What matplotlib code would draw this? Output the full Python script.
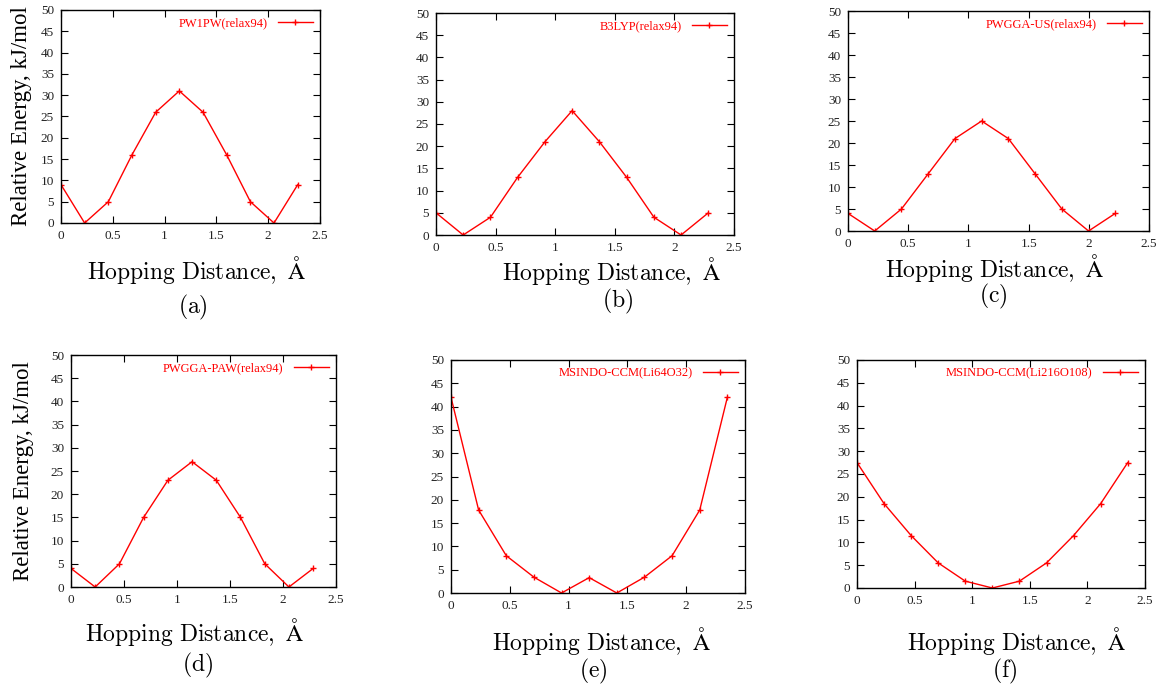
import matplotlib
matplotlib.use("Agg")
import matplotlib.pyplot as plt
from matplotlib.ticker import FormatStrFormatter, MultipleLocator

plt.rcParams["font.family"] = "Liberation Serif"
plt.rcParams["mathtext.fontset"] = "cm"

W, H = 1159, 684

# hopping coordinates, Angstrom
x_relax = [0, 0.228, 0.457, 0.685, 0.914, 1.142, 1.371, 1.599, 1.828, 2.056, 2.285]
x_us = [0, 0.222, 0.444, 0.666, 0.888, 1.110, 1.332, 1.554, 1.776, 1.998, 2.220]
x_ccm = [0, 0.235, 0.470, 0.705, 0.940, 1.175, 1.410, 1.645, 1.880, 2.115, 2.350]

# relative energies, kJ/mol
e_pw1pw = [9, 0, 5, 16, 26, 31, 26, 16, 5, 0, 9]
e_b3lyp = [5, 0, 4, 13, 21, 28, 21, 13, 4, 0, 5]
e_us = [4, 0, 5, 13, 21, 25, 21, 13, 5, 0, 4]
e_paw = [4, 0, 5, 15, 23, 27, 23, 15, 5, 0, 4]
e_li64 = [42, 17.8, 8, 3.4, 0, 3.3, 0, 3.4, 8, 17.8, 42]
e_li216 = [27.5, 18.5, 11.5, 5.5, 1.5, 0, 1.5, 5.5, 11.5, 18.5, 27.5]

labels = ["PW1PW(relax94)", "B3LYP(relax94)", "PWGGA-US(relax94)",
          "PWGGA-PAW(relax94)", "MSINDO-CCM(Li64O32)", "MSINDO-CCM(Li216O108)"]
tags = ["(a)", "(b)", "(c)", "(d)", "(e)", "(f)"]

panels = [
    # box (l, t, r, b) px, x, y, xlabel pos, tag pos, ylabel x
    ((61, 10, 320, 223), x_relax, e_pw1pw, (197, 270), (193, 307), 22),
    ((436, 13, 734, 235), x_relax, e_b3lyp, (612, 271), (618, 301), None),
    ((848, 11, 1149, 231), x_us, e_us, (995, 268), (993, 296), None),
    ((71, 355, 336, 587), x_relax, e_paw, (195, 632), (198, 665), 24),
    ((451, 360, 745, 593), x_ccm, e_li64, (602, 641), (593, 671), None),
    ((857, 360, 1145, 588), x_ccm, e_li216, (1017, 641), (1005, 671), None),
]

fig = plt.figure(figsize=(W / 100, H / 100), dpi=100)

for (box, xs, ys, xl, tg, yl), lab, tag in zip(panels, labels, tags):
    l, t, r, b = box
    ax = fig.add_axes([l / W, 1 - b / H, (r - l) / W, (b - t) / H])
    ax.plot(xs, ys, color="red", lw=1, marker="+", ms=5, mew=1, label=lab)
    ax.set_xlim(0, 2.5)
    ax.set_ylim(0, 50)
    ax.xaxis.set_major_locator(MultipleLocator(0.5))
    ax.yaxis.set_major_locator(MultipleLocator(5))
    ax.xaxis.set_major_formatter(FormatStrFormatter("%g"))
    ax.tick_params(direction="in", top=True, right=True, length=5, width=0.8,
                   labelsize=9.5, labelcolor="#222222", pad=5)
    for s in ax.spines.values():
        s.set_linewidth(1)
    ax.legend(loc="upper right", frameon=False, markerfirst=False,
              fontsize=9, labelcolor="red", handlelength=2.8,
              borderaxespad=0.2, handletextpad=0.8)

    fig.text(xl[0] / W, 1 - xl[1] / H, r"$\mathrm{Hopping\ Distance,\ \AA}$",
             ha="center", va="center", fontsize=17)
    fig.text(tg[0] / W, 1 - tg[1] / H, r"$\mathrm{%s}$" % tag,
             ha="center", va="center", fontsize=17)
    if yl is not None:
        fig.text(yl / W, 1 - (t + b) / 2 / H, "Relative Energy, kJ/mol",
                 rotation=90, ha="center", va="center", fontsize=16.5)

fig.savefig("out.png", dpi=100)
